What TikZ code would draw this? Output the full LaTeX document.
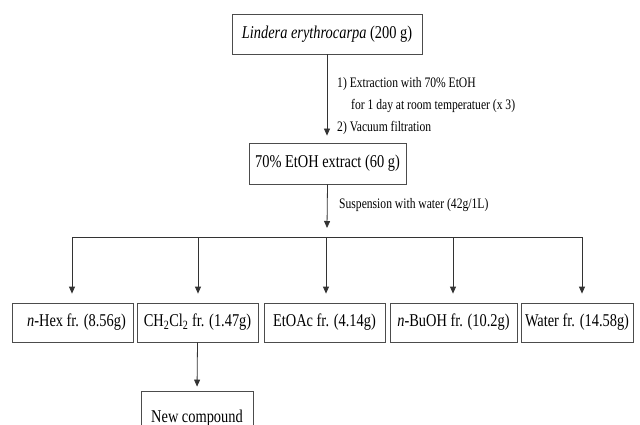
\documentclass[tikz,border=0pt]{standalone}
\usepackage{fontspec}
\setmainfont{Liberation Serif}[FakeStretch=0.8]
\usetikzlibrary{arrows.meta}
\begin{document}
\begin{tikzpicture}[x=1pt,y=-1pt,
  box/.style={draw=black!70,line width=0.8pt,inner sep=0pt,font=\fontsize{18}{20}\selectfont},
  frbox/.style={box,minimum height=39pt},
  lbl/.style={anchor=base west,inner sep=0pt,font=\fontsize{14.5}{16}\selectfont},
  arr/.style={draw=black!80,line width=0.8pt,-{Triangle[width=6pt,length=7pt]}},
  ln/.style={draw=black!80,line width=0.8pt}]
\useasboundingbox (0,0) rectangle (640,425);
\node[box,minimum width=190pt,minimum height=40pt] (top) at (327,34) {\textit{Lindera erythrocarpa} (200 g)};
\node[box,minimum width=157pt,minimum height=41pt] (ext) at (327.5,163.5) {70\% EtOH extract (60 g)};
\draw[arr,shorten >=7pt] (top.south) -- (top.south |- ext.north);
\node[lbl] (l1) at (337,88) {1) Extraction with 70\% EtOH};
\node[lbl] (l2) at (351,110) {for 1 day at room temperatuer (x 3)};
\node[lbl] (l3) at (337,132) {2) Vacuum filtration};
\node[lbl] (l4) at (339,208) {Suspension with water (42g/1L)};
\coordinate (sus) at (327,228);
\draw[arr] (ext.south) -- (sus);
\coordinate (b1) at (72,237);
\coordinate (b2) at (198,237);
\coordinate (b3) at (326,237);
\coordinate (b4) at (453,237);
\coordinate (b5) at (582,237);
\draw[ln] (b1) -- (b5);
\node[frbox,minimum width=121pt] (hex) at (72.5,322.5) {\hspace*{8pt}\textit{n}-Hex fr. (8.56g)};
\node[frbox,minimum width=121pt] (dcm) at (197.5,322.5) {CH\textsubscript{2}Cl\textsubscript{2} fr. (1.47g)};
\node[frbox,minimum width=121pt] (eto) at (324.5,322.5) {EtOAc fr. (4.14g)};
\node[frbox,minimum width=127pt] (buo) at (453.5,322.5) {\textit{n}-BuOH fr. (10.2g)};
\node[frbox,minimum width=112pt] (wat) at (577,322.5) {Water fr. (14.58g)};
\draw[arr,shorten >=9pt] (b1) -- (b1 |- hex.north);
\draw[arr,shorten >=9pt] (b2) -- (b2 |- dcm.north);
\draw[arr,shorten >=9pt] (b3) -- (b3 |- eto.north);
\draw[arr,shorten >=9pt] (b4) -- (b4 |- buo.north);
\draw[arr,shorten >=9pt] (b5) -- (b5 |- wat.north);
\node[box,minimum width=112pt,minimum height=54pt] (newc) at (197,418) {New compound};
\draw[arr,shorten >=4pt] (dcm.south) -- (newc.north);
\end{tikzpicture}
\end{document}
